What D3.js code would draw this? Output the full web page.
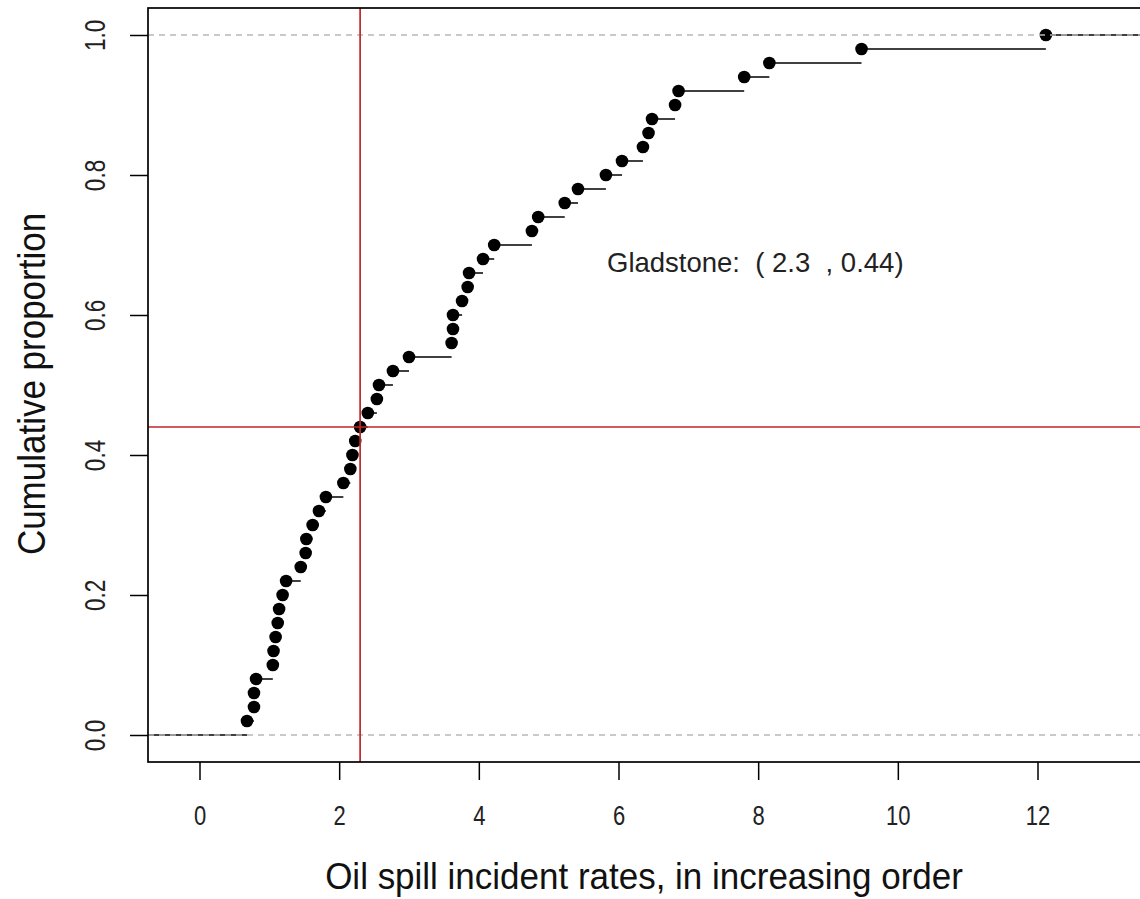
<!DOCTYPE html>
<html>
<head>
<meta charset="utf-8">
<script src="https://cdn.jsdelivr.net/npm/d3@7/dist/d3.min.js"></script>
<style>
  html, body { margin: 0; padding: 0; background: #fff; }
  svg { display: block; font-family: "Liberation Sans", Arial, sans-serif; }
</style>
</head>
<body>
<svg id="chart" width="1140" height="899"></svg>
<script>
// Oil spill incident rates, sorted ascending (50 sites)
const rates = [0.68, 0.78, 0.78, 0.81, 1.05, 1.06, 1.09, 1.12, 1.14, 1.19,
               1.24, 1.45, 1.52, 1.53, 1.62, 1.71, 1.81, 2.06, 2.16, 2.19,
               2.23, 2.30, 2.41, 2.54, 2.57, 2.77, 3.00, 3.61, 3.63, 3.63,
               3.76, 3.84, 3.86, 4.06, 4.22, 4.76, 4.85, 5.23, 5.42, 5.82,
               6.05, 6.35, 6.43, 6.48, 6.81, 6.86, 7.80, 8.16, 9.48, 12.12];
const xTicks = [0, 2, 4, 6, 8, 10, 12];
const yTicks = [0, 0.2, 0.4, 0.6, 0.8, 1.0];
const gladX = 2.3;
const gladY = 0.44;

const svg = d3.select("#chart");

// plot region
const box = { left: 148, top: 8, right: 1150, bottom: 762 };
const x = d3.scaleLinear().domain([0, 12]).range([199.5, 1037.5]);
const y = d3.scaleLinear().domain([0, 1]).range([735, 35]);
const xMin = x.invert(box.left), xMax = x.invert(box.right);

const n = rates.length;
const pts = rates.map((v, i) => ({ x: v, p: (i + 1) / n }));

svg.append("defs").append("clipPath").attr("id", "plotclip")
  .append("rect").attr("x", box.left).attr("y", box.top)
  .attr("width", box.right - box.left).attr("height", box.bottom - box.top);

const plot = svg.append("g").attr("clip-path", "url(#plotclip)");

// horizontal steps of the empirical CDF
const steps = [{ x0: xMin, x1: rates[0], p: 0 }];
pts.forEach((d, i) => {
  steps.push({ x0: d.x, x1: i < n - 1 ? rates[i + 1] : xMax, p: d.p });
});
plot.selectAll("line.step").data(steps).enter().append("line")
  .attr("class", "step")
  .attr("x1", d => x(d.x0)).attr("x2", d => x(d.x1))
  .attr("y1", d => y(d.p)).attr("y2", d => y(d.p))
  .attr("stroke", "#000").attr("stroke-width", 1.5);

// points
plot.selectAll("circle.pt").data(pts).enter().append("circle")
  .attr("class", "pt")
  .attr("cx", d => x(d.x)).attr("cy", d => y(d.p))
  .attr("r", 6.3).attr("fill", "#000");

// reference lines at 0 and 1
plot.selectAll("line.ref").data([0, 1]).enter().append("line")
  .attr("class", "ref")
  .attr("x1", box.left).attr("x2", box.right)
  .attr("y1", d => y(d)).attr("y2", d => y(d))
  .attr("stroke", "#b8b8b8").attr("stroke-width", 1.5)
  .attr("stroke-dasharray", "6,5");

// Gladstone crosshair
const red = "#c0262b";
plot.append("line")
  .attr("x1", x(gladX)).attr("x2", x(gladX))
  .attr("y1", box.top).attr("y2", box.bottom)
  .attr("stroke", red).attr("stroke-width", 1.7);
plot.append("line")
  .attr("x1", box.left).attr("x2", box.right)
  .attr("y1", y(gladY)).attr("y2", y(gladY))
  .attr("stroke", red).attr("stroke-width", 1.7);

// frame
svg.append("rect")
  .attr("x", box.left).attr("y", box.top)
  .attr("width", box.right - box.left).attr("height", box.bottom - box.top)
  .attr("fill", "none").attr("stroke", "#000").attr("stroke-width", 1.7);

// x axis
const xAxis = d3.axisBottom(x).tickValues(xTicks).tickSize(18).tickPadding(0)
  .tickFormat(d3.format("d"));
const gx = svg.append("g").attr("transform", `translate(0,${box.bottom})`).call(xAxis);
gx.select(".domain").remove();
gx.selectAll(".tick line").attr("stroke", "#000").attr("stroke-width", 1.5);
gx.selectAll(".tick text")
  .attr("y", null).attr("dy", null)
  .attr("transform", "translate(0,53) scale(1,1.27)")
  .attr("text-anchor", "middle").attr("dominant-baseline", "central")
  .attr("font-size", 22).attr("fill", "#222")
  .attr("font-family", "Liberation Sans, Arial, sans-serif");

// y axis (labels parallel to the axis)
const yAxis = d3.axisLeft(y).tickValues(yTicks).tickSize(18).tickPadding(0)
  .tickFormat(d3.format(".1f"));
const gy = svg.append("g").attr("transform", `translate(${box.left},0)`).call(yAxis);
gy.select(".domain").remove();
gy.selectAll(".tick line").attr("stroke", "#000").attr("stroke-width", 1.5);
gy.selectAll(".tick text")
  .attr("x", null).attr("dy", null)
  .attr("transform", "translate(-53,0) rotate(-90) scale(1,1.27)")
  .attr("text-anchor", "middle").attr("dominant-baseline", "central")
  .attr("font-size", 22.5).attr("fill", "#222")
  .attr("font-family", "Liberation Sans, Arial, sans-serif");

// axis titles
svg.append("text")
  .attr("transform", "translate(644,876) scale(1,1.08)")
  .attr("text-anchor", "middle").attr("dominant-baseline", "central")
  .attr("font-size", 35).attr("fill", "#111")
  .text("Oil spill incident rates, in increasing order");
svg.append("text")
  .attr("transform", "translate(31,384) rotate(-90) scale(1,1.12)")
  .attr("text-anchor", "middle").attr("dominant-baseline", "central")
  .attr("font-size", 35).attr("fill", "#111")
  .text("Cumulative proportion");

// annotation
svg.append("text")
  .attr("x", 607).attr("y", 272)
  .attr("font-size", 27.5).attr("fill", "#222")
  .style("white-space", "pre")
  .text(`Gladstone:  ( ${gladX}  , ${gladY})`);
</script>
</body>
</html>
